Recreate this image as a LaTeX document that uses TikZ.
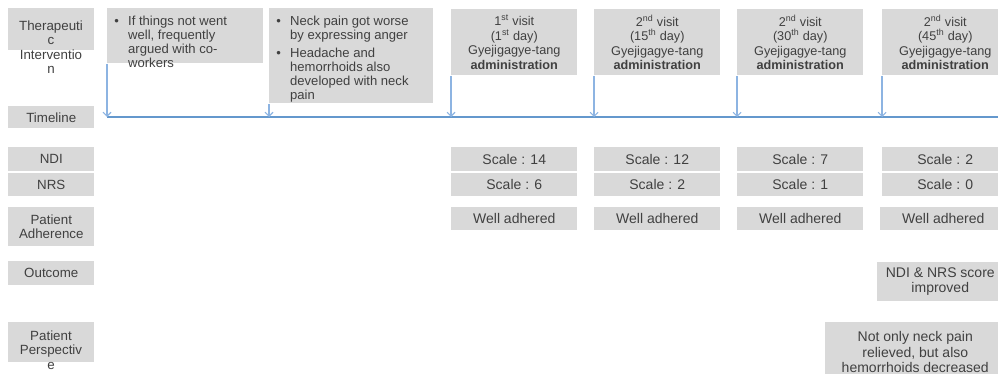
\documentclass[tikz,border=0pt]{standalone}
\usepackage{fontspec}
\setmainfont{Liberation Sans}
\usepackage{xcolor}
\usetikzlibrary{
    positioning,
    arrows.meta
}
\definecolor{cellgray}{RGB}{217,217,217}
\definecolor{txtgray}{RGB}{64,64,64}
\definecolor{lineblue}{RGB}{100,152,205}
\definecolor{arrowblue}{RGB}{141,180,226}

\begin{document}
\begin{tikzpicture}[x=0.75pt, y=-0.75pt]
  \useasboundingbox (0,0) rectangle (998,374);
  \clip (0,0) rectangle (998,374);

  % Define box and arrow styles:
  \tikzset{
    cell/.style={fill=cellgray, text=txtgray, inner sep=0pt, anchor=north west, align=center},
    plain/.style={text=txtgray, inner sep=0pt, align=center},
    rowlabel/.style={cell, minimum width=64.5pt, font=\fontsize{10}{10.9}\selectfont},
    event/.style={cell},
    visit/.style={cell, minimum width=94.5pt, minimum height=49.5pt, font=\fontsize{9.5}{10.9}\selectfont},
    score/.style={cell, minimum width=94.5pt, font=\fontsize{10.5}{11.6}\selectfont},
    timeline/.style={line width=1.5pt, lineblue},
    onset/.style={-{Straight Barb[length=3pt, width=6pt]}, line width=0.8pt, arrowblue}
  }

  % Row labels on the left
  \node[rowlabel, minimum height=31.5pt] (ther_box) at (8,8) {};
  \node[plain, font=\fontsize{10}{10.9}\selectfont] (ther) at (51,47) {Therapeuti\\c\\Interventio\\n};
  \node[rowlabel, minimum height=16.5pt] (time) at (8,106) {Timeline};
  \node[rowlabel, minimum height=18pt] (ndi) at (8,147) {NDI};
  \node[rowlabel, minimum height=17.25pt] (nrs) at (8,173) {NRS};
  \node[rowlabel, minimum height=29.25pt] (adh) at (8,207) {Patient\\Adherence};
  \node[rowlabel, minimum height=18pt] (outc) at (8,261) {Outcome};
  \node[rowlabel, minimum height=30pt] (persp_box) at (8,322) {};
  \node[plain, font=\fontsize{10}{10.9}\selectfont] (persp) at (51,350) {Patient\\Perspectiv\\e};

  % Events before the first visit (text runs past the grey box)
  \node[event, minimum width=117pt, minimum height=41.25pt] (ev1) at (107,8) {};
  \node[plain, anchor=base west, align=left, font=\fontsize{9.8}{10.4}\selectfont] (ev1_txt) at (114,26) {%
    \begin{tabular}[t]{@{}l@{\hspace{7pt}}l@{}}
      \textbullet & If things not went\\
                  & well, frequently\\
                  & argued with co-\\
                  & workers
    \end{tabular}};
  \node[event, minimum width=123pt, minimum height=71.25pt] (ev2) at (269,8) {};
  \node[plain, anchor=base west, align=left, font=\fontsize{9.8}{10.4}\selectfont] (ev2_txt) at (276,26) {%
    \begin{tabular}[t]{@{}l@{\hspace{7pt}}l@{}}
      \textbullet & Neck pain got worse\\
                  & by expressing anger\\[3pt]
      \textbullet & Headache and\\
                  & hemorrhoids also\\
                  & developed with neck\\
                  & pain
    \end{tabular}};

  % Visits
  \node[visit] (v1) at (451,9) {1\textsuperscript{st} visit\\(1\textsuperscript{st} day)\\Gyejigagye-tang\\\textbf{administration}};
  \node[visit] (v2) at (594,9) {2\textsuperscript{nd} visit\\(15\textsuperscript{th} day)\\Gyejigagye-tang\\\textbf{administration}};
  \node[visit] (v3) at (737,9) {2\textsuperscript{nd} visit\\(30\textsuperscript{th} day)\\Gyejigagye-tang\\\textbf{administration}};
  \node[visit] (v4) at (882,9) {2\textsuperscript{nd} visit\\(45\textsuperscript{th} day)\\Gyejigagye-tang\\\textbf{administration}};

  % Timeline and the arrows down to it
  \coordinate (tl_start) at (107,117);
  \coordinate (tl_end) at (998,117);
  \draw[timeline] (tl_start) -- (tl_end);
  \draw[onset] (ev1.south west) -- (ev1.south west |- tl_start);
  \draw[onset] (ev2.south west) -- (ev2.south west |- tl_start);
  \draw[onset] (v1.south west) -- (v1.south west |- tl_start);
  \draw[onset] (v2.south west) -- (v2.south west |- tl_start);
  \draw[onset] (v3.south west) -- (v3.south west |- tl_start);
  \draw[onset] (v4.south west) -- (v4.south west |- tl_start);

  % Scores per visit
  \node[score, minimum height=18pt] (ndi1) at (451,147) {Scale : 14};
  \node[score, minimum height=17.25pt] (nrs1) at (451,173) {Scale : 6};
  \node[score, minimum height=17.25pt] (adh1) at (451,207) {Well adhered};
  \node[score, minimum height=18pt] (ndi2) at (594,147) {Scale : 12};
  \node[score, minimum height=17.25pt] (nrs2) at (594,173) {Scale : 2};
  \node[score, minimum height=17.25pt] (adh2) at (594,207) {Well adhered};
  \node[score, minimum height=18pt] (ndi3) at (737,147) {Scale : 7};
  \node[score, minimum height=17.25pt] (nrs3) at (737,173) {Scale : 1};
  \node[score, minimum height=17.25pt] (adh3) at (737,207) {Well adhered};
  \node[score, minimum height=18pt] (ndi4) at (882,147) {Scale : 2};
  \node[score, minimum height=17.25pt] (nrs4) at (882,173) {Scale : 0};
  \node[score, minimum height=17.25pt] (adh4) at (880,207) {Well adhered};

  % Outcome and patient perspective at the end
  \node[score, minimum height=29.25pt] (outc4) at (877,262) {NDI \& NRS score\\improved};
  \node[score, minimum width=135pt, minimum height=45pt] (persp4) at (825,322) {Not only neck pain\\relieved, but also\\hemorrhoids decreased};
\end{tikzpicture}
\end{document}
